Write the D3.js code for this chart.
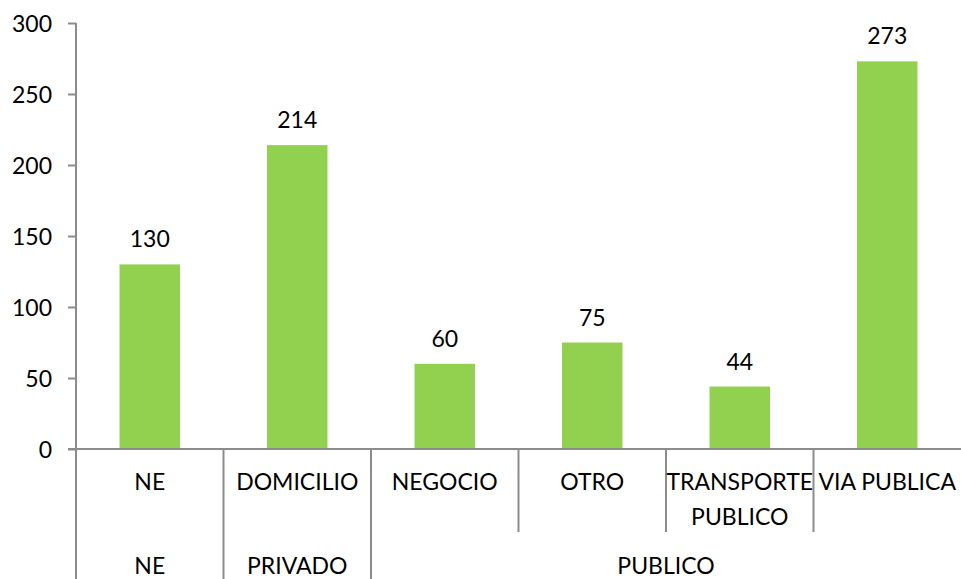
<!DOCTYPE html>
<html>
<head>
<meta charset="utf-8">
<script src="https://cdn.jsdelivr.net/npm/d3@7"></script>
<style>
  body { margin: 0; background: #fff; }
  text { font-family: Lato, "Open Sans", sans-serif; fill: #000; }
</style>
</head>
<body>
<div id="chart"></div>
<script>
const categories = ['NE', 'DOMICILIO', 'NEGOCIO', 'OTRO', 'TRANSPORTE PUBLICO', 'VIA PUBLICA']
const values = [130, 214, 60, 75, 44, 273]
const groups = ['NE', 'PRIVADO', 'PUBLICO', 'PUBLICO', 'PUBLICO', 'PUBLICO']
const yTicks = [0, 50, 100, 150, 200, 250, 300]

const w = 961, h = 579
const margin = {top: 23, right: 0, bottom: 130, left: 76}
const width = w - margin.left - margin.right
const height = h - margin.top - margin.bottom
const axisColor = '#8c8c8c'
const fontSize = 23

const svg = d3.select('#chart').append('svg')
  .attr('width', w)
  .attr('height', h)

const chart = svg.append('g')
  .attr('transform', 'translate(' + margin.left + ',' + margin.top + ')')

const x = d3.scaleBand()
  .domain(categories)
  .range([0, width])
  .paddingInner(0)

const y = d3.scaleLinear()
  .domain([0, 300])
  .range([height, 0])

const barW = x.bandwidth() * 0.41

// bars
chart.append('g').selectAll('rect')
  .data(categories)
  .enter()
  .append('rect')
  .attr('x', d => x(d) + (x.bandwidth() - barW) / 2)
  .attr('y', (d, i) => y(values[i]))
  .attr('width', barW)
  .attr('height', (d, i) => height - y(values[i]))
  .style('fill', '#92d050')

// value labels
chart.append('g').selectAll('text')
  .data(categories)
  .enter()
  .append('text')
  .attr('x', d => x(d) + x.bandwidth() / 2)
  .attr('y', (d, i) => y(values[i]) - 17)
  .attr('text-anchor', 'middle')
  .style('font-size', fontSize + 'px')
  .text((d, i) => values[i])

// y axis
const yAxis = chart.append('g')
  .call(d3.axisLeft(y).tickValues(yTicks).tickSize(8).tickPadding(16))
yAxis.select('.domain').remove()
yAxis.selectAll('line').attr('stroke', axisColor).attr('stroke-width', 2)
yAxis.selectAll('text')
  .style('font-size', fontSize + 'px')
  .style('font-family', 'Lato, sans-serif')
  .attr('dy', '0.36em')

// axis lines
const axes = chart.append('g')
  .attr('stroke', axisColor)
  .attr('stroke-width', 2)
  .attr('fill', 'none')

axes.append('line')
  .attr('x1', 0).attr('x2', 0)
  .attr('y1', y(300)).attr('y2', h - margin.top)
axes.append('line')
  .attr('x1', -8).attr('x2', width)
  .attr('y1', height).attr('y2', height)

// category dividers: full height at group boundaries, short inside groups
categories.forEach((c, i) => {
  if (i === 0) return
  const boundary = groups[i] !== groups[i - 1]
  axes.append('line')
    .attr('x1', x(c)).attr('x2', x(c))
    .attr('y1', height)
    .attr('y2', boundary ? h - margin.top : height + 83)
})

// category labels, wrapped to band width
const catLabels = chart.append('g')
  .attr('transform', 'translate(0,' + height + ')')
categories.forEach(c => {
  const t = catLabels.append('text')
    .attr('x', x(c) + x.bandwidth() / 2)
    .attr('y', 41)
    .attr('text-anchor', 'middle')
    .style('font-size', fontSize + 'px')
    .text(c)
  if (t.node().getComputedTextLength() > x.bandwidth()) {
    const words = c.split(' ')
    t.text(null)
    words.forEach((wd, k) => {
      t.append('tspan')
        .attr('x', x(c) + x.bandwidth() / 2)
        .attr('dy', k === 0 ? 0 : 35)
        .text(wd)
    })
  }
})

// group labels
const groupNames = Array.from(new Set(groups))
groupNames.forEach(g => {
  const members = categories.filter((c, i) => groups[i] === g)
  const x0 = x(members[0])
  const x1 = x(members[members.length - 1]) + x.bandwidth()
  catLabels.append('text')
    .attr('x', (x0 + x1) / 2)
    .attr('y', 125)
    .attr('text-anchor', 'middle')
    .style('font-size', fontSize + 'px')
    .text(g)
})
</script>
</body>
</html>
